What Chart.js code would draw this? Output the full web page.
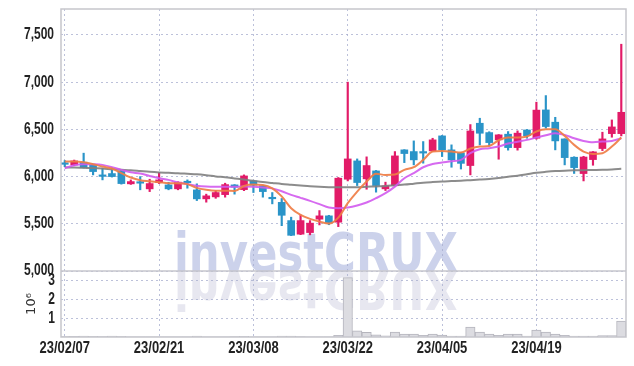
<!DOCTYPE html>
<html>
<head>
<meta charset="utf-8">
<script src="https://cdn.jsdelivr.net/npm/chart.js@4.4.0/dist/chart.umd.min.js"></script>
<style>
  html, body { margin: 0; padding: 0; background: #fff; }
  #chart { display: block; }
</style>
</head>
<body>
<canvas id="chart" width="634" height="366"></canvas>
<script>
// trading days (index = position on the x axis)
const dates = [
  '23/02/07', '23/02/08', '23/02/09', '23/02/10', '23/02/13', '23/02/14', '23/02/15', '23/02/16', '23/02/17', '23/02/20',
  '23/02/21', '23/02/22', '23/02/23', '23/02/24', '23/02/27', '23/02/28', '23/03/02', '23/03/03', '23/03/06', '23/03/07',
  '23/03/08', '23/03/09', '23/03/10', '23/03/13', '23/03/14', '23/03/15', '23/03/16', '23/03/17', '23/03/20', '23/03/21',
  '23/03/22', '23/03/23', '23/03/24', '23/03/27', '23/03/28', '23/03/29', '23/03/30', '23/03/31', '23/04/03', '23/04/04',
  '23/04/05', '23/04/06', '23/04/07', '23/04/10', '23/04/11', '23/04/12', '23/04/13', '23/04/14', '23/04/17', '23/04/18',
  '23/04/19', '23/04/20', '23/04/21', '23/04/24', '23/04/25', '23/04/26', '23/04/27', '23/04/28', '23/05/02', '23/05/03'
];
const tickIdx = [0, 10, 20, 30, 40, 50];

const opens = [
  6135, 6124, 6152, 6124, 6008, 6032, 6060, 5923, 5935, 5870,
  5937, 5912, 5870, 5948, 5859, 5764, 5785, 5809, 5912, 5862,
  5954, 5902, 5770, 5727, 5534, 5390, 5407, 5549, 5584, 5517,
  5972, 6166, 5976, 6060, 5870, 5905, 6283, 6265, 6253, 6272,
  6431, 6283, 6250, 6117, 6565, 6466, 6389, 6449, 6307, 6494,
  6406, 6706, 6576, 6399, 6205, 6032, 6180, 6297, 6455, 6455
];
const highs = [
  6170, 6175, 6248, 6130, 6089, 6089, 6065, 5965, 6000, 5972,
  6042, 5940, 5945, 5965, 5923, 5814, 5850, 5930, 5915, 6018,
  5960, 5905, 5831, 5768, 5570, 5594, 5534, 5640, 5590, 5990,
  7000, 6187, 6209, 6065, 5941, 6265, 6285, 6378, 6371, 6406,
  6435, 6336, 6255, 6551, 6618, 6475, 6445, 6477, 6484, 6498,
  6788, 6858, 6628, 6400, 6210, 6215, 6265, 6470, 6600, 7402
];
const lows = [
  6105, 6115, 6090, 6018, 5965, 5995, 5920, 5917, 5860, 5841,
  5926, 5860, 5860, 5877, 5746, 5729, 5770, 5782, 5814, 5851,
  5831, 5782, 5711, 5480, 5375, 5385, 5383, 5488, 5490, 5470,
  5954, 5905, 5866, 5835, 5852, 5900, 6148, 6124, 6142, 6268,
  6212, 6099, 6080, 6018, 6336, 6325, 6184, 6280, 6280, 6406,
  6396, 6512, 6283, 6124, 6033, 5954, 6120, 6275, 6417, 6431
];
const closes = [
  6130, 6166, 6095, 6053, 6002, 6000, 5926, 5947, 5930, 5926,
  5965, 5870, 5941, 5935, 5764, 5796, 5831, 5915, 5888, 6007,
  5909, 5841, 5765, 5590, 5378, 5534, 5507, 5584, 5513, 5983,
  6187, 5937, 6117, 5905, 5902, 6219, 6244, 6177, 6249, 6389,
  6283, 6177, 6140, 6483, 6459, 6360, 6442, 6307, 6460, 6433,
  6704, 6530, 6378, 6201, 6095, 6207, 6262, 6399, 6526, 6681
];
const volumes = [
  40000, 30000, 45000, 35000, 20000, 45000, 40000, 15000, 10000, 15000,
  10000, 10000, 10000, 15000, 45000, 10000, 15000, 10000, 20000, 40000,
  15000, 10000, 15000, 45000, 45000, 20000, 15000, 10000, 15000, 90000,
  3150000, 330000, 250000, 110000, 60000, 260000, 160000, 160000, 90000, 150000,
  100000, 50000, 50000, 530000, 260000, 160000, 95000, 160000, 160000, 50000,
  370000, 260000, 160000, 90000, 50000, 50000, 50000, 70000, 70000, 850000
];

// moving averages
const maShort = [
  6159, 6160, 6152, 6131, 6106, 6085, 6036, 5990, 5962, 5951,
  5941, 5930, 5930, 5920, 5880, 5860, 5850, 5850, 5848, 5900,
  5915, 5910, 5875, 5790, 5665, 5594, 5552, 5523, 5502, 5566,
  5718, 5841, 5947, 6029, 6018, 6022, 6071, 6099, 6177, 6265,
  6272, 6265, 6254, 6297, 6318, 6325, 6385, 6413, 6413, 6424,
  6477, 6502, 6502, 6431, 6336, 6265, 6240, 6248, 6318, 6413
];
const maMid = [
  6089, 6120, 6131, 6130, 6124, 6100, 6071, 6046, 6032, 6007,
  5983, 5965, 5937, 5920, 5902, 5894, 5892, 5892, 5893, 5894,
  5892, 5885, 5875, 5845, 5806, 5775, 5743, 5708, 5672, 5665,
  5672, 5693, 5725, 5771, 5824, 5894, 5983, 6036, 6099, 6134,
  6148, 6163, 6177, 6248, 6290, 6300, 6318, 6350, 6370, 6389,
  6413, 6437, 6460, 6442, 6406, 6378, 6364, 6371, 6378, 6406
];
const maLong = [
  6098, 6096, 6093, 6090, 6085, 6078, 6072, 6066, 6058, 6050,
  6044, 6040, 6036, 6030, 6024, 6014, 6002, 5992, 5980, 5968,
  5955, 5942, 5932, 5922, 5914, 5906, 5898, 5892, 5888, 5886,
  5886, 5888, 5892, 5896, 5900, 5908, 5915, 5925, 5935, 5942,
  5948, 5952, 5956, 5962, 5968, 5975, 5985, 5998, 6010, 6025,
  6040, 6050, 6058, 6063, 6066, 6068, 6070, 6072, 6076, 6082
];

const priceTicks = [5000, 5500, 6000, 6500, 7000, 7500];
const volTicks = [1000000, 2000000, 3000000];

const red = '#e21b68';
const blue = '#2a94c8';
const candleColor = opens.map((o, i) => closes[i] > o ? red : blue);
const idx = dates.map((d, i) => i);

const gridColor = 'rgba(165,172,205,0.75)';

// watermark with its reflection, under the grid
const watermark = {
    id: 'watermark',
    beforeDraw(chart) {
        const { ctx, chartArea } = chart;
        const base = chart.scales.y.bottom;
        const x = chartArea.left + 113;
        ctx.save();
        ctx.font = 'bold 54px "DejaVu Sans", sans-serif';
        ctx.textBaseline = 'alphabetic';
        ctx.fillStyle = 'rgba(172,183,222,0.62)';
        ctx.fillText('investCRUX', x, base, 284);
        ctx.beginPath();
        ctx.rect(chartArea.left, base, chartArea.width, chartArea.bottom - base);
        ctx.clip();
        ctx.translate(0, 2 * base);
        ctx.scale(1, -1);
        ctx.fillStyle = 'rgba(198,198,220,0.42)';
        ctx.fillText('investCRUX', x, base, 284);
        ctx.restore();
    }
};

// frame round the plot and the line between the two panels
const frame = {
    id: 'frame',
    afterDraw(chart) {
        const { ctx, chartArea: a } = chart;
        const sep = chart.scales.y.bottom;
        ctx.save();
        ctx.strokeStyle = '#c6c6cc';
        ctx.lineWidth = 1.5;
        ctx.strokeRect(a.left, a.top, a.width, a.height);
        ctx.beginPath();
        ctx.moveTo(a.left, sep);
        ctx.lineTo(a.right, sep);
        ctx.stroke();
        ctx.restore();
    }
};

// narrow bold tick labels (drawn squeezed, the narrow face is not installed)
const tickLabels = {
    id: 'tickLabels',
    afterDraw(chart) {
        const { ctx } = chart;
        const { x, y, yVol } = chart.scales;
        const draw = (text, px, py, align, sx) => {
            ctx.save();
            ctx.translate(px, py);
            ctx.scale(sx, 1);
            ctx.textAlign = align;
            ctx.textBaseline = 'middle';
            ctx.fillText(text, 0, 0);
            ctx.restore();
        };
        ctx.save();
        ctx.font = 'bold 16px "Liberation Sans", sans-serif';
        ctx.fillStyle = '#222';
        priceTicks.forEach(v => draw(v.toLocaleString('en-US'), y.right - 7, y.getPixelForValue(v), 'right', 0.75));
        volTicks.forEach(v => draw(String(v / 1000000), yVol.right - 6, yVol.getPixelForValue(v), 'right', 0.75));
        tickIdx.forEach(i => draw(dates[i], x.getPixelForValue(i), x.top + 12, 'center', 0.81));
        ctx.restore();
    }
};

function maLine(values, color, order) {
    return {
        type: 'line',
        data: idx.map(i => ({ x: i, y: values[i] })),
        borderColor: color,
        borderWidth: 2,
        pointRadius: 0,
        cubicInterpolationMode: 'monotone',
        yAxisID: 'y',
        order: order
    };
}

new Chart(document.getElementById('chart'), {
    type: 'bar',
    data: {
        datasets: [
            maLine(maShort, 'rgba(239,125,69,0.92)', 0),
            maLine(maMid, 'rgba(210,90,238,0.9)', 1),
            maLine(maLong, 'rgba(128,128,128,0.9)', 2),
            {
                data: idx.map(i => ({ x: i, y: [opens[i], closes[i]] })),
                backgroundColor: candleColor,
                barThickness: 7,
                minBarLength: 1.5,
                grouped: false,
                yAxisID: 'y',
                order: 3
            },
            {
                data: idx.map(i => ({ x: i, y: [lows[i], highs[i]] })),
                backgroundColor: candleColor,
                barThickness: 1.5,
                grouped: false,
                yAxisID: 'y',
                order: 4
            },
            {
                data: idx.map(i => ({ x: i, y: volumes[i] })),
                backgroundColor: '#dcdce1',
                borderColor: '#b5b5bd',
                borderWidth: 1,
                barPercentage: 1,
                categoryPercentage: 1,
                grouped: false,
                yAxisID: 'yVol',
                order: 5
            }
        ]
    },
    options: {
        responsive: false,
        animation: false,
        layout: { padding: { top: 9, right: 8, bottom: 0, left: 0 } },
        plugins: { legend: { display: false }, tooltip: { enabled: false } },
        scales: {
            x: {
                type: 'linear',
                min: -0.4,
                max: 59.5,
                offset: false,
                afterBuildTicks: s => { s.ticks = tickIdx.map(v => ({ value: v })); },
                afterFit: s => { s.height = 29; },
                ticks: { display: false },
                grid: { color: gridColor, drawTicks: false, offset: false },
                border: { display: false, dash: [2, 3] }
            },
            yVol: {
                position: 'left',
                stack: 'panel',
                stackWeight: 66,
                min: 0,
                max: 3500000,
                afterBuildTicks: s => { s.ticks = volTicks.map(v => ({ value: v })); },
                afterFit: s => { s.width = 61; },
                ticks: { display: false },
                title: { display: true, text: '10⁶', font: { family: '"DejaVu Sans", sans-serif', size: 13 }, color: '#333', padding: { top: 24, bottom: 0 } },
                grid: { color: gridColor, drawTicks: false },
                border: { display: false, dash: [2, 3] }
            },
            y: {
                position: 'left',
                stack: 'panel',
                stackWeight: 262,
                min: 5000,
                max: 7775,
                afterBuildTicks: s => { s.ticks = priceTicks.map(v => ({ value: v })); },
                afterFit: s => { s.width = 61; },
                ticks: { display: false },
                grid: { color: gridColor, drawTicks: false },
                border: { display: false, dash: [2, 3] }
            }
        }
    },
    plugins: [watermark, frame, tickLabels]
});
</script>
</body>
</html>
